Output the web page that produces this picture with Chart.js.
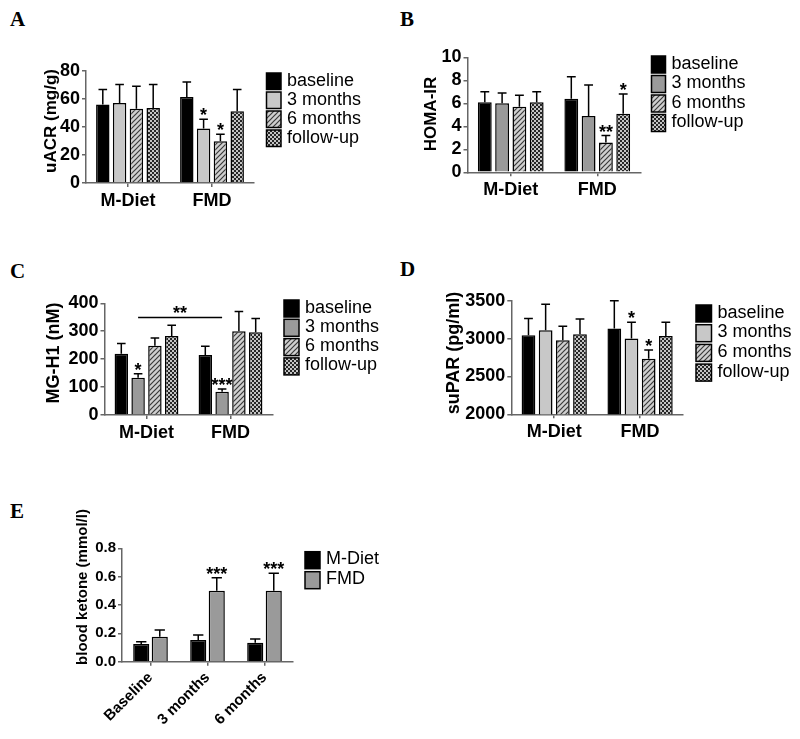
<!DOCTYPE html>
<html>
<head>
<meta charset="utf-8">
<script src="https://cdn.jsdelivr.net/npm/chart.js@4"></script>
<style>
  body { margin: 0; background: #fff; }
  #fig { position: relative; width: 800px; height: 739px; }
  canvas { position: absolute; }
  .lab { position: absolute; font: bold 21px "Liberation Serif", "Times New Roman", serif; line-height: 21px; }
</style>
</head>
<body>
<div id="fig">
  <div class="lab" style="left:10px;top:9px">A</div>
  <div class="lab" style="left:400px;top:9px">B</div>
  <div class="lab" style="left:10px;top:261px">C</div>
  <div class="lab" style="left:400px;top:259px">D</div>
  <div class="lab" style="left:10px;top:501px">E</div>
  <canvas id="chartA" width="400" height="250" style="left:0;top:0"></canvas>
  <canvas id="chartB" width="400" height="250" style="left:400px;top:0"></canvas>
  <canvas id="chartC" width="400" height="240" style="left:0;top:260px"></canvas>
  <canvas id="chartD" width="400" height="240" style="left:400px;top:260px"></canvas>
  <canvas id="chartE" width="400" height="239" style="left:0;top:500px"></canvas>
</div>
<script>
// ---- data ----
const groups = ['M-Diet', 'FMD'];
const timepoints = ['baseline', '3 months', '6 months', 'follow-up'];

// one row per timepoint: [M-Diet, FMD]
const uacrMean = [[56, 61.4], [57.1, 38.9], [53.1, 29.8], [53.6, 51.2]];
const uacrSem = [[10.7, 10.7], [13.2, 6.6], [16, 5], [16.7, 15.5]];

const homaMean = [[6.1, 6.4], [6.0, 4.9], [5.7, 2.6], [6.1, 5.1]];
const homaSem = [[0.9, 1.9], [0.9, 2.7], [1.0, 0.6], [0.9, 1.7]];

const mgh1Mean = [[219, 215], [133, 83], [248, 300], [283, 296]];
const mgh1Sem = [[37, 31], [15, 10], [28, 71], [38, 50]];

const suparMean = [[3044, 3133], [3110, 3000], [2977, 2734], [3057, 3035]];
const suparSem = [[222, 367], [342, 217], [187, 115], [200, 182]];

const ketoneCats = ['Baseline', '3 months', '6 months'];
const ketoneGroups = ['M-Diet', 'FMD'];
const ketoneMean = [[0.125, 0.153, 0.134], [0.176, 0.5, 0.5]];
const ketoneSem = [[0.016, 0.035, 0.026], [0.048, 0.093, 0.124]];

// significance marks: [series, category, text]
const uacrStars = [[1, 1, '*'], [2, 1, '*']];
const homaStars = [[2, 1, '**'], [3, 1, '*']];
const mgh1Stars = [[1, 0, '*'], [1, 1, '***']];
const suparStars = [[1, 1, '*'], [2, 1, '*']];
const ketoneStars = [[1, 1, '***'], [1, 2, '***']];

const FONT = '"Liberation Sans", Arial, sans-serif';

function hatchPattern() {
  const s = 5;
  const c = document.createElement('canvas');
  c.width = c.height = s;
  const g = c.getContext('2d');
  g.fillStyle = '#d0d0d0';
  g.fillRect(0, 0, s, s);
  g.strokeStyle = '#3a3a3a';
  g.lineWidth = 1.2;
  g.beginPath();
  g.moveTo(0, s); g.lineTo(s, 0);
  g.moveTo(-s / 2, s / 2); g.lineTo(s / 2, -s / 2);
  g.moveTo(s / 2, s * 1.5); g.lineTo(s * 1.5, s / 2);
  g.stroke();
  return g.createPattern(c, 'repeat');
}

function checkPattern() {
  const c = document.createElement('canvas');
  c.width = c.height = 4;
  const g = c.getContext('2d');
  g.fillStyle = '#c4c4c4';
  g.fillRect(0, 0, 4, 4);
  g.fillStyle = '#262626';
  g.fillRect(0, 0, 2, 2);
  g.fillRect(2, 2, 2, 2);
  return g.createPattern(c, 'repeat');
}

const hatch = hatchPattern();
const check = checkPattern();
const lightFills = ['#000', '#c8c8c8', hatch, check];
const darkFills = ['#000', '#9a9a9a', hatch, check];

function drawPanel(p) {
  const canvas = document.getElementById(p.id);
  const W = canvas.width, H = canvas.height;
  const yW = 60, xH = p.xH || 30;
  const fs = p.fontSize || 18;

  const extras = {
    id: 'extras',
    afterDatasetsDraw(chart) {
      const ctx = chart.ctx, ys = chart.scales.y;
      ctx.save();
      ctx.strokeStyle = '#000';
      ctx.lineWidth = 1.5;
      chart.data.datasets.forEach((ds, i) => {
        chart.getDatasetMeta(i).data.forEach((bar, j) => {
          const top = ys.getPixelForValue(ds.data[j] + ds.sem[j]);
          const half = bar.width * 0.32;
          ctx.beginPath();
          ctx.moveTo(bar.x, bar.y);
          ctx.lineTo(bar.x, top);
          ctx.moveTo(bar.x - half, top);
          ctx.lineTo(bar.x + half, top);
          ctx.stroke();
        });
      });
      ctx.fillStyle = '#000';
      ctx.textAlign = 'center';
      ctx.font = 'bold 18px ' + FONT;
      p.stars.forEach(s => {
        const ds = chart.data.datasets[s[0]];
        const bar = chart.getDatasetMeta(s[0]).data[s[1]];
        const top = ys.getPixelForValue(ds.data[s[1]] + ds.sem[s[1]]);
        ctx.fillText(s[2], bar.x, top + 2);
      });
      if (p.bracket) {
        const b = p.bracket;
        const meta = chart.getDatasetMeta(b.series);
        const x1 = meta.data[b.from].x, x2 = meta.data[b.to].x;
        const yy = ys.getPixelForValue(b.value);
        ctx.lineWidth = 1.5;
        ctx.beginPath();
        ctx.moveTo(x1, yy);
        ctx.lineTo(x2, yy);
        ctx.stroke();
        ctx.fillText(b.text, (x1 + x2) / 2, yy + 1);
      }
      ctx.restore();
    },
    afterDraw(chart) {
      const ctx = chart.ctx, L = p.legend;
      ctx.save();
      ctx.lineWidth = 1.5;
      ctx.strokeStyle = '#000';
      ctx.font = '18px ' + FONT;
      ctx.textAlign = 'left';
      ctx.textBaseline = 'alphabetic';
      chart.data.datasets.forEach((ds, i) => {
        const y = L.y + i * L.row;
        ctx.fillStyle = ds.backgroundColor;
        ctx.fillRect(L.x, y, L.w, L.h);
        ctx.strokeRect(L.x, y, L.w, L.h);
        ctx.fillStyle = '#000';
        ctx.fillText(ds.label, L.x + L.w + 6, y + 12.5);
      });
      // y axis title
      const T = p.title;
      ctx.translate(T.x, T.y);
      ctx.rotate(-Math.PI / 2);
      ctx.font = 'bold ' + T.size + 'px ' + FONT;
      ctx.textAlign = 'center';
      ctx.textBaseline = 'middle';
      ctx.fillText(T.text, 0, 0);
      ctx.restore();
    }
  };

  const axisFont = { family: FONT, size: fs, weight: 'bold' };
  const rot = p.rotate || 0;

  return new Chart(canvas, {
    type: 'bar',
    data: {
      labels: p.labels,
      datasets: p.names.map((n, i) => ({
        label: n,
        data: p.means[i],
        sem: p.sems[i],
        backgroundColor: p.fills[i],
        borderColor: '#000',
        borderWidth: 1.5,
        barPercentage: p.barPct || 0.8,
        categoryPercentage: p.catPct || 0.8
      }))
    },
    options: {
      responsive: false,
      animation: false,
      events: [],
      layout: {
        padding: { left: p.area.l - yW, top: p.area.t, right: W - p.area.r, bottom: H - p.area.b - xH }
      },
      plugins: { legend: { display: false }, tooltip: { enabled: false } },
      scales: {
        x: {
          grid: { drawOnChartArea: false, offset: false, tickLength: 4, color: '#666', lineWidth: 1.5 },
          border: { display: true, color: '#666', width: 1.5 },
          ticks: { color: '#000', font: axisFont, padding: 3, autoSkip: false, minRotation: rot, maxRotation: rot },
          afterFit: s => { s.height = xH; }
        },
        y: {
          min: p.yMin, max: p.yMax, beginAtZero: false,
          grid: { drawOnChartArea: false, tickLength: 4, color: '#666', lineWidth: 1.5 },
          border: { display: true, color: '#666', width: 1.5 },
          ticks: { color: '#000', font: axisFont, padding: 2, stepSize: p.yStep, autoSkip: false,
                   callback: v => v.toFixed(p.decimals || 0) },
          afterFit: s => { s.width = yW; }
        }
      }
    },
    plugins: [extras]
  });
}

drawPanel({
  id: 'chartA', labels: groups, names: timepoints, means: uacrMean, sems: uacrSem, fills: lightFills,
  yMin: 0, yMax: 80, yStep: 20, stars: uacrStars,
  area: { l: 86, t: 71, r: 254, b: 183 },
  legend: { x: 266.5, y: 73, w: 14.5, h: 16.5, row: 19 },
  title: { text: 'uACR (mg/g)', x: 51, y: 121, size: 17 }
});

drawPanel({
  id: 'chartB', labels: groups, names: timepoints, means: homaMean, sems: homaSem, fills: darkFills,
  yMin: 0, yMax: 10, yStep: 2, stars: homaStars,
  area: { l: 67.5, t: 57.3, r: 240.5, b: 172.3 },
  legend: { x: 251.5, y: 56, w: 14, h: 17, row: 19.5 },
  title: { text: 'HOMA-IR', x: 31, y: 114, size: 17 }
});

drawPanel({
  id: 'chartC', labels: groups, names: timepoints, means: mgh1Mean, sems: mgh1Sem, fills: darkFills,
  yMin: 0, yMax: 400, yStep: 100, stars: mgh1Stars,
  bracket: { series: 1, from: 0, to: 1, value: 349, text: '**' },
  area: { l: 104.5, t: 43.3, r: 272.5, b: 155 },
  legend: { x: 284, y: 40, w: 15, h: 17, row: 19.3 },
  title: { text: 'MG-H1 (nM)', x: 54, y: 93, size: 18 }
});

drawPanel({
  id: 'chartD', labels: groups, names: timepoints, means: suparMean, sems: suparSem, fills: lightFills,
  yMin: 2000, yMax: 3500, yStep: 500, stars: suparStars,
  area: { l: 111.3, t: 40.7, r: 283, b: 154.3 },
  legend: { x: 296, y: 45, w: 15.5, h: 17, row: 19.7 },
  title: { text: 'suPAR (pg/ml)', x: 54, y: 93, size: 18 }
});

drawPanel({
  id: 'chartE', labels: ketoneCats, names: ketoneGroups, means: ketoneMean, sems: ketoneSem,
  fills: ['#000', '#9a9a9a'], fontSize: 15, rotate: 45, xH: 75, decimals: 1,
  barPct: 0.87, catPct: 0.65,
  yMin: 0, yMax: 0.8, yStep: 0.2, stars: ketoneStars,
  area: { l: 122, t: 48.3, r: 293, b: 161.7 },
  legend: { x: 305, y: 51.7, w: 15, h: 17, row: 20 },
  title: { text: 'blood ketone (mmol/l)', x: 83, y: 87, size: 15 }
});
</script>
</body>
</html>
